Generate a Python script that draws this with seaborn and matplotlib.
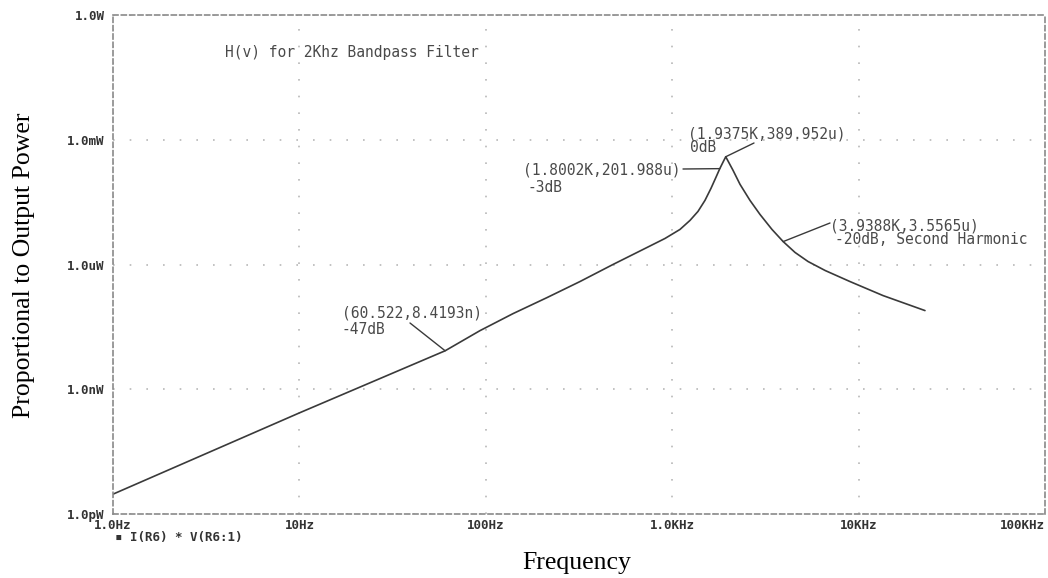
import matplotlib
matplotlib.use("Agg")
import matplotlib.pyplot as plt
import seaborn as sns
import pandas as pd

# Frequency response of the 2 kHz bandpass filter: power in the load, I(R6)*V(R6:1)
freq_hz = [1.0, 10.0, 60.522, 93.1, 140.0, 213.0, 320.0, 481.0, 733.0, 915.0,
           1101.0, 1246.0, 1375.0, 1499.0, 1615.0, 1717.0, 1800.2, 1883.0,
           1937.5, 2120.0, 2311.0, 2614.0, 2958.0, 3430.0, 3938.8, 4560.0,
           5355.0, 6620.0, 8990.0, 13520.0, 22700.0]
power_w = [3.0e-12, 2.7e-10, 8.4193e-9, 2.57e-8, 6.59e-8, 1.60e-7, 3.89e-7,
           1.0e-6, 2.57e-6, 4.23e-6, 6.97e-6, 1.15e-5, 1.89e-5, 3.48e-5,
           6.8e-5, 1.25e-4, 201.988e-6, 3.03e-4, 389.952e-6, 1.84e-4, 8.47e-5,
           3.48e-5, 1.60e-5, 6.97e-6, 3.5565e-6, 1.95e-6, 1.18e-6, 7.16e-7,
           3.89e-7, 1.79e-7, 7.8e-8]

x_ticks = [1, 10, 100, 1e3, 1e4, 1e5]
x_tick_labels = ["1.0Hz", "10Hz", "100Hz", "1.0KHz", "10KHz", "100KHz"]
y_ticks = [1e-12, 1e-9, 1e-6, 1e-3, 1.0]
y_tick_labels = ["1.0pW", "1.0nW", "1.0uW", "1.0mW", "1.0W"]

# Marked points on the trace: (frequency, power, label line 1, label line 2)
markers = [
    (60.522, 8.4193e-9, "(60.522,8.4193n)", "-47dB"),
    (1800.2, 201.988e-6, "(1.8002K,201.988u)", "-3dB"),
    (1937.5, 389.952e-6, "(1.9375K,389.952u)", "0dB"),
    (3938.8, 3.5565e-6, "(3.9388K,3.5565u)", "-20dB, Second Harmonic"),
]

df = pd.DataFrame({"freq": freq_hz, "power": power_w})

sns.set_theme(style="white")
plt.rcParams["font.family"] = ["DejaVu Sans Mono", "DejaVu Sans"]

W, H = 1048, 578
fig = plt.figure(figsize=(W / 100, H / 100), dpi=100)
fig.patch.set_facecolor("white")
ax = fig.add_axes([113 / W, 1 - 514 / H, (1045 - 113) / W, (514 - 15) / H])
ax.set_facecolor("white")

sns.lineplot(data=df, x="freq", y="power", ax=ax, color="#3a3a3a",
             linewidth=1.2, sort=False, estimator=None)

ax.set_xscale("log")
ax.set_yscale("log")
ax.set_xlim(1, 1e5)
ax.set_ylim(1e-12, 1.0)
ax.minorticks_off()
ax.set_xticks(x_ticks)
ax.set_xticklabels(x_tick_labels)
ax.set_yticks(y_ticks)
ax.set_yticklabels(y_tick_labels)
ax.tick_params(axis="y", direction="out", length=4, width=0.8,
               color="#777777", labelsize=9, labelcolor="#333333", pad=2)
ax.tick_params(axis="x", direction="out", length=3, width=0.8,
               color="#777777", labelsize=9, labelcolor="#333333", pad=0.5)
for lbl in ax.get_xticklabels() + ax.get_yticklabels():
    lbl.set_fontweight("bold")
ax.get_xticklabels()[-1].set_horizontalalignment("right")

ax.set_xlabel("")
ax.set_ylabel("")

# Sparse dotted grid on the decade lines
ax.grid(True, which="major", linestyle=(0, (1, 9)), color="#b8b8b8", linewidth=1.2)

# Dashed frame
for side, spine in ax.spines.items():
    spine.set_visible(True)
    spine.set_color("#8a8a8a")
    spine.set_linewidth(1.2)
    spine.set_linestyle((0, (3, 2)))

ann_color = "#4a4a4a"
ann_size = 10.5

def fig_px(x, y):
    return (x, H - y)

# Title inside plot
fig.text(225 / W, 1 - 52 / H, "H(v) for 2Khz Bandpass Filter", fontsize=ann_size,
         color=ann_color, va="center", ha="left")

# Label positions in pixel space: first line, second line, leader end
label_layout = [
    ((342, 313), (342, 330), (410, 323)),
    ((523, 170), (527, 188), (683, 169)),
    ((688, 134), (690, 148), (754, 143)),
    ((830, 226), (835, 240), (830, 223)),
]

for (f, p, l1, l2), (p1, p2, lead) in zip(markers, label_layout):
    ax.annotate("", xy=(f, p), xycoords="data",
                xytext=fig_px(*lead), textcoords="figure pixels",
                arrowprops=dict(arrowstyle="-", color="#3a3a3a", lw=1.0,
                                shrinkA=0, shrinkB=0))
    fig.text(p1[0] / W, 1 - p1[1] / H, l1, fontsize=ann_size, color=ann_color,
             va="center", ha="left")
    fig.text(p2[0] / W, 1 - p2[1] / H, l2, fontsize=ann_size, color=ann_color,
             va="center", ha="left")

# Trace legend under the axis
fig.text(115 / W, 1 - 538 / H, "\u25aa I(R6) * V(R6:1)", fontsize=9,
         fontweight="bold", color="#333333", va="center", ha="left")

# Axis titles
fig.text(577 / W, 1 - 563 / H, "Frequency", fontsize=18.5, family="Liberation Serif",
         color="black", ha="center", va="center")
fig.text(24 / W, 1 - 265 / H, "Proportional to Output Power", fontsize=18.5,
         family="Liberation Serif", color="black", ha="center", va="center",
         rotation=90)

fig.savefig("out.png", dpi=100, facecolor="white")
